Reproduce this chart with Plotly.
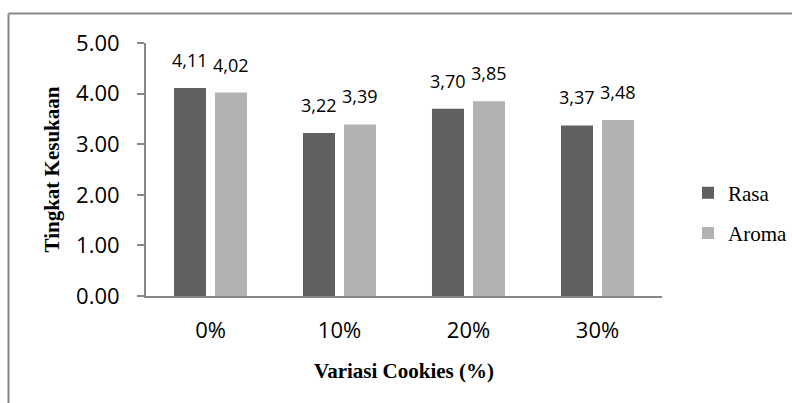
import plotly.graph_objects as go

categories = ["0%", "10%", "20%", "30%"]
rasa = [4.11, 3.22, 3.70, 3.37]
aroma = [4.02, 3.39, 3.85, 3.48]
series_names = ["Rasa", "Aroma"]
series_colors = ["#606060", "#b2b2b2"]
y_ticks = [0, 1, 2, 3, 4, 5]

W, H = 792, 403
L, R, T, B = 146, 130, 43, 107
pw, ph = W - L - R, H - T - B

fig = go.Figure()
for name, vals, col in zip(series_names, [rasa, aroma], series_colors):
    fig.add_trace(go.Bar(x=categories, y=vals, name=name, marker_color=col,
                         marker_line_width=0, legendgroup=name))

label_font = dict(family="Open Sans", size=18, color="#000000")
annotations = []
for shift, vals in zip([-20.5, 20.5], [rasa, aroma]):
    for c, v in zip(categories, vals):
        annotations.append(dict(x=c, y=v, xref="x", yref="y", text=f"{v:.2f}".replace(".", ","),
                                showarrow=False, xshift=shift, yshift=14, yanchor="bottom",
                                font=label_font))

def px_x(p):
    return (p - L) / pw

def px_y(p):
    return (H - B - p) / ph

border = dict(color="#878787", width=2)
shapes = [
    dict(type="line", xref="paper", yref="paper", x0=px_x(8.5), x1=px_x(800), y0=px_y(13.5), y1=px_y(13.5), line=border),
    dict(type="line", xref="paper", yref="paper", x0=px_x(8.5), x1=px_x(8.5), y0=px_y(13.5), y1=px_y(420), line=border),
]

fig.update_layout(
    width=W, height=H,
    margin=dict(l=L, r=R, t=T, b=B, autoexpand=False),
    paper_bgcolor="white", plot_bgcolor="white",
    barmode="group", bargap=0.364, bargroupgap=0.22,
    showlegend=True,
    legend=dict(x=px_x(688), y=px_y(213), xanchor="left", yanchor="middle",
                font=dict(family="Liberation Serif", size=21, color="#000000"),
                traceorder="grouped", tracegroupgap=10, itemwidth=30),
    annotations=annotations,
    shapes=shapes,
)
fig.update_xaxes(
    showline=True, linecolor="#878787", linewidth=2, ticks="",
    tickfont=dict(family="Open Sans", size=22, color="#000000"),
    ticklabelstandoff=14,
    title=dict(text="<b>Variasi Cookies (%)</b>", standoff=20,
               font=dict(family="Liberation Serif", size=21, color="#000000")),
)
fig.update_yaxes(
    range=[0, 5], tickvals=y_ticks, tickformat=".2f",
    showline=True, linecolor="#878787", linewidth=2, showgrid=False, zeroline=False,
    ticks="outside", ticklen=7, tickcolor="#878787", tickwidth=2,
    tickfont=dict(family="Open Sans", size=22, color="#000000"),
    ticklabelstandoff=13,
    title=dict(text="<b>Tingkat Kesukaan</b>", standoff=11,
               font=dict(family="Liberation Serif", size=21, color="#000000")),
)

fig.write_html("out.html", config={"displayModeBar": False},
               post_script="document.body.style.margin='0px';document.body.style.overflow='hidden';")
